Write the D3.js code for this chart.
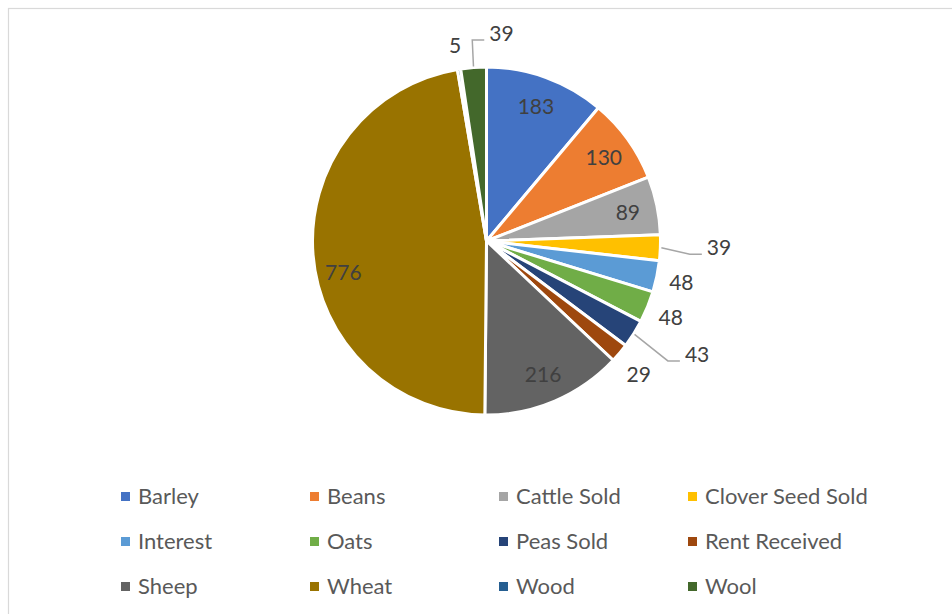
<!DOCTYPE html>
<html>
<head>
<meta charset="utf-8">
<script src="https://cdn.jsdelivr.net/npm/d3@7"></script>
<style>
  html, body { margin: 0; padding: 0; background: #fff; }
  svg { display: block; }
  text { font-family: Lato, "Noto Sans", sans-serif; }
</style>
</head>
<body>
<svg id="chart" width="952" height="614"></svg>
<script>
// Income by source
const categories = ["Barley", "Beans", "Cattle Sold", "Clover Seed Sold", "Interest", "Oats",
                    "Peas Sold", "Rent Received", "Sheep", "Wheat", "Wood", "Wool"];
const values = [183, 130, 89, 39, 48, 48, 43, 29, 216, 776, 5, 39];
const colors = ["#4472C4", "#ED7D31", "#A5A5A5", "#FFC000", "#5B9BD5", "#70AD47",
                "#264478", "#9E480E", "#636363", "#997300", "#255E91", "#43682B"];

// How each value label is placed: inside the slice, just outside it, or pulled out with a leader line.
const labelMode = ["in", "in", "in", "leader", "out", "out", "leader", "out", "in", "in", "out", "leader"];
// Leader labels: polar position (degrees clockwise from 12 o'clock, distance from centre).
const leaderPos = { 3: [91.4, 232.6], 6: [118.1, 238.7], 11: [4.1, 209] };
// Small angular / radial adjustments for labels that sit off their slice's mid-line.
const labelNudge = { 7: [1, 3], 9: [-7.5, 2] };

const W = 952, H = 614;
const cx = 486.5, cy = 241, R = 174;

const svg = d3.select("#chart");

// Chart area frame
svg.append("rect")
  .attr("x", 8.5).attr("y", 8.5)
  .attr("width", W).attr("height", H)
  .attr("fill", "#fff")
  .attr("stroke", "#d9d9d9").attr("stroke-width", 1.2);

const data = categories.map((c, i) => ({ name: c, value: values[i], color: colors[i], i }));

const pie = d3.pie().value(d => d.value).sort(null);
const arcs = pie(data);
const arc = d3.arc().innerRadius(0).outerRadius(R);

const g = svg.append("g").attr("transform", `translate(${cx},${cy})`);

g.selectAll("path.slice")
  .data(arcs)
  .join("path")
  .attr("class", "slice")
  .attr("d", arc)
  .attr("fill", d => d.data.color)
  .attr("stroke", "#fff")
  .attr("stroke-width", 3)
  .attr("stroke-linejoin", "round");

const labelSize = 21;
const legendSize = 22;
const labelColor = "#404040";
const polar = (deg, r) => [r * Math.sin(deg * Math.PI / 180), -r * Math.cos(deg * Math.PI / 180)];
const midDeg = d => (d.startAngle + d.endAngle) / 2 * 180 / Math.PI;

const labels = g.append("g");

arcs.forEach(d => {
  const i = d.data.i;
  const mode = labelMode[i];
  const m = midDeg(d);
  const nudge = labelNudge[i] || [0, 0];
  let pos;
  if (mode === "in") {
    pos = polar(m + nudge[0], R * 0.83 + nudge[1]);
  } else if (mode === "out") {
    pos = polar(m + nudge[0], R + 25 + nudge[1]);
  } else {
    const lp = leaderPos[i];
    pos = polar(lp[0], lp[1]);
  }
  const t = labels.append("text")
    .attr("x", pos[0]).attr("y", pos[1])
    .attr("text-anchor", "middle")
    .attr("dominant-baseline", "central")
    .attr("font-size", labelSize)
    .attr("fill", labelColor)
    .text(d.data.value);

  if (mode === "leader") {
    const w = t.node().getComputedTextLength();
    const start = polar(m, R + 1);
    const end = [pos[0] - w / 2 - 5, pos[1] + 7.5];
    const elbow = [end[0] - 12, end[1]];
    labels.insert("path", "text")
      .attr("d", d3.line()([start, elbow, end]))
      .attr("fill", "none")
      .attr("stroke", "#a6a6a6")
      .attr("stroke-width", 1.5);
  }
});

// Legend: 4 columns x 3 rows
const legendCols = 4;
const colX = d3.scaleLinear().domain([0, 1]).range([121, 310]);
const rowY = d3.scaleLinear().domain([0, 1]).range([496.5, 541.5]);

const legend = svg.append("g");
const items = legend.selectAll("g.item")
  .data(data)
  .join("g")
  .attr("class", "item")
  .attr("transform", d => `translate(${colX(d.i % legendCols)},${rowY(Math.floor(d.i / legendCols))})`);

items.append("rect")
  .attr("x", 0).attr("y", -4.5)
  .attr("width", 9).attr("height", 9)
  .attr("fill", d => d.color);

items.append("text")
  .attr("x", 17).attr("y", -1.5)
  .attr("dominant-baseline", "central")
  .attr("font-size", legendSize)
  .attr("fill", "#595959")
  .text(d => d.name);
</script>
</body>
</html>
